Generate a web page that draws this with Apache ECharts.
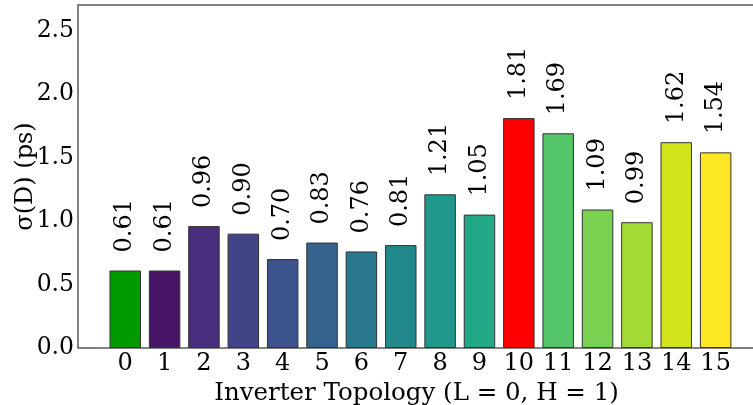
<!DOCTYPE html>
<html>
<head>
<meta charset="utf-8">
<script src="https://cdn.jsdelivr.net/npm/echarts@6/dist/echarts.min.js"></script>
<style>html,body{margin:0;padding:0;background:#fff}#c{width:753px;height:405px}</style>
</head>
<body>
<div id="c"></div>
<script>
var categories = [0,1,2,3,4,5,6,7,8,9,10,11,12,13,14,15];
var values = [0.61,0.61,0.96,0.90,0.70,0.83,0.76,0.81,1.21,1.05,1.81,1.69,1.09,0.99,1.62,1.54];
var barColors = ['#009900','#471365','#472d7b','#414487','#3b528b','#33638d','#2a788e','#23888e','#1f988b','#22a884','#ff0000','#54c568','#7ad151','#a5db36','#d2e21b','#fde725'];
var yTicks = [0,0.5,1.0,1.5,2.0,2.5];

var font = 'DejaVu Serif';
var chart = echarts.init(document.getElementById('c'), null, {renderer:'canvas'});
chart.setOption({
  animation:false,
  grid:{left:78, top:5, width:677, height:343, show:true, borderColor:'#5a5a5a', borderWidth:1.5, containLabel:false, outerBoundsMode:'none'},
  xAxis:{
    type:'value', min:-1.2, max:16,
    axisLine:{show:false}, axisTick:{show:false}, splitLine:{show:false},
    axisLabel:{customValues:categories, fontFamily:font, fontSize:24, color:'#000', margin:4, formatter:function(v){return String(Math.round(v));}},
    name:'Inverter Topology (L = 0, H = 1)', nameLocation:'middle', nameGap:27,
    nameTextStyle:{fontFamily:font, fontSize:24.5, color:'#000'}
  },
  yAxis:{
    type:'value', min:0, max:2.7,
    axisLine:{show:false}, axisTick:{show:false}, splitLine:{show:false},
    axisLabel:{customValues:yTicks, fontFamily:font, fontSize:23.5, color:'#000', margin:4, formatter:function(v){return v.toFixed(1);}},
    name:'σ(D) (ps)', nameLocation:'middle', nameGap:40, nameMoveOverlap:false,
    nameTextStyle:{fontFamily:font, fontSize:24, color:'#000'}
  },
  series:[{
    type:'bar',
    barWidth:31.5,
    data:categories.map(function(c,i){return {value:[c, values[i]], itemStyle:{color:barColors[i], borderColor:'#333', borderWidth:1}};}),
    label:{show:true, position:'top', rotate:90, align:'left', verticalAlign:'middle', distance:18,
      fontFamily:font, fontSize:24, color:'#000',
      formatter:function(p){return p.value[1].toFixed(2);}}
  }]
});
</script>
</body>
</html>
